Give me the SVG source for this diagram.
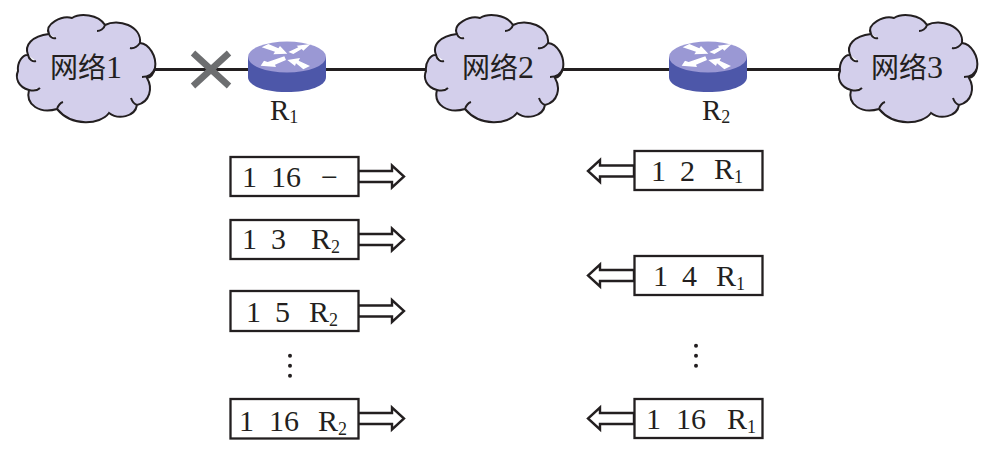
<svg xmlns="http://www.w3.org/2000/svg" width="997" height="454" viewBox="0 0 997 454">
<style>
.t{font-family:"Liberation Serif",serif;font-size:30px;fill:#231f20}
.s{font-size:18px}
.c{font-family:"Noto Sans CJK SC",sans-serif;font-size:28px;fill:#231f20}
.n{font-family:"Liberation Serif",serif;font-size:32px}
.cloud{fill:#d3cfeb;stroke:#231f20;stroke-width:2}
.box{fill:#fff;stroke:#231f20;stroke-width:2.3}
.arr{fill:#fff;stroke:#231f20;stroke-width:2.4}
.link{stroke:#231f20;stroke-width:2.8;fill:none}
</style>
<defs>
<path id="cl" d="M18 71C17 62 23 54 28 55C24 45 32 36 49 34C44 24 62 15 72 18C80 13 98 14 105 25C118 18 142 26 140 43C149 44 157 56 155 68C154 74 150 78 147 78C153 88 150 102 137 105C135 117 118 120 109 113C100 125 72 127 57 109C40 114 25 105 29 90C18 87 15 78 18 71ZM28 55C29 60 33 62 36 61M49 34C50 37 53 39 56 38M105 25C104 29 100 31 97 31M140 43C137 47 134 49 130 48M155 68C153 74 149 77 142 77M137 105C134 104 132 101 131 98M57 109C58 106 60 103 63 102M29 90C33 91 37 91 40 88"/>
<g id="rt">
<path d="M-39 16V36C-39 45 -22 51 0 51S39 45 39 36V16Z" fill="#4d57a9"/>
<ellipse cx="0" cy="16" rx="39" ry="15.500" fill="#9a98d4"/>
<path transform="translate(-47 -11) scale(.3333)" fill="#fff" d="M65 52L85 42L115 55L120 48L142 71L100 73L105 65ZM145 66L175 52L170 47L212 42L190 62L185 57L160 72ZM133 79L138 90L105 104L108 111L62 107L72 92L83 96ZM142 90L180 84L176 92L210 108L190 118L168 100L165 108Z"/>
</g>
<path id="ar" d="M0 -5.500H34V-11L46 0L34 11V5.500H0Z"/>
</defs>
<g id="connectors">
<path class="link" d="M155 69.500H248M326 69.500H430M563 69.500H670M746 69.500H840"/>
<path d="M193 53L229 86M229 53L193 86" stroke="#6d6e70" stroke-width="6.500" fill="none"/>
<use href="#ar" class="arr" transform="translate(358 176.500)"/>
<use href="#ar" class="arr" transform="translate(358 239.500)"/>
<use href="#ar" class="arr" transform="translate(358 311)"/>
<use href="#ar" class="arr" transform="translate(358 418.500)"/>
<use href="#ar" class="arr" transform="translate(634 171) scale(-1 1)"/>
<use href="#ar" class="arr" transform="translate(634 275.500) scale(-1 1)"/>
<use href="#ar" class="arr" transform="translate(634 418.500) scale(-1 1)"/>
</g>
<g id="net1"><use href="#cl" class="cloud"/><text class="c" x="50" y="78">网络<tspan class="n">1</tspan></text></g>
<g id="net2"><use href="#cl" class="cloud" x="408"/><text class="c" x="462" y="78">网络<tspan class="n">2</tspan></text></g>
<g id="net3"><use href="#cl" class="cloud" x="822"/><text class="c" x="871" y="78">网络<tspan class="n">3</tspan></text></g>
<g id="r1"><use href="#rt" x="287" y="41"/><text class="t" x="270" y="120" style="font-size:29px">R<tspan class="s" dy="3">1</tspan></text></g>
<g id="r2"><use href="#rt" x="708" y="41"/><text class="t" x="702" y="120" style="font-size:29px">R<tspan class="s" dy="3">2</tspan></text></g>
<g id="l1"><rect class="box" x="230.500" y="157" width="128" height="39"/><text class="t" x="242" y="187">1</text><text class="t" x="271" y="187">16</text><text class="t" x="321" y="187">−</text></g>
<g id="l2"><rect class="box" x="230.500" y="220" width="128" height="39"/><text class="t" x="242" y="249">1</text><text class="t" x="271" y="249">3</text><text class="t" x="311" y="249">R<tspan class="s" dy="4">2</tspan></text></g>
<g id="l3"><rect class="box" x="230.500" y="291" width="128" height="40"/><text class="t" x="246" y="322">1</text><text class="t" x="275" y="322">5</text><text class="t" x="309" y="322">R<tspan class="s" dy="4">2</tspan></text></g>
<g id="l4"><rect class="box" x="230.500" y="399" width="128" height="39.500"/><text class="t" x="239" y="431">1</text><text class="t" x="269" y="431">16</text><text class="t" x="318" y="431">R<tspan class="s" dy="4">2</tspan></text></g>
<g id="d1" fill="#231f20"><circle cx="290" cy="355.700" r="2"/><circle cx="290" cy="365.700" r="2"/><circle cx="290" cy="375.700" r="2"/></g>
<g id="m1"><rect class="box" x="634.500" y="151" width="128" height="39"/><text class="t" x="651" y="181">1</text><text class="t" x="680" y="181">2</text><text class="t" x="714" y="179">R<tspan class="s" dy="4">1</tspan></text></g>
<g id="m2"><rect class="box" x="634.500" y="256" width="128" height="39"/><text class="t" x="653" y="286">1</text><text class="t" x="682" y="286">4</text><text class="t" x="716" y="286">R<tspan class="s" dy="4">1</tspan></text></g>
<g id="d2" fill="#231f20"><circle cx="696" cy="345.700" r="2"/><circle cx="696" cy="355.700" r="2"/><circle cx="696" cy="365.700" r="2"/></g>
<g id="m3"><rect class="box" x="634.500" y="399" width="128" height="39"/><text class="t" x="646" y="429">1</text><text class="t" x="676" y="429">16</text><text class="t" x="727" y="429">R<tspan class="s" dy="4">1</tspan></text></g>
</svg>
